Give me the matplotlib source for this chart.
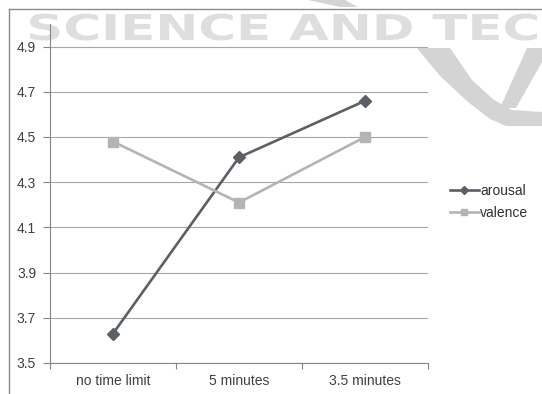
import numpy as np
import matplotlib.pyplot as plt
from matplotlib.textpath import TextPath
from matplotlib.font_manager import FontProperties
from matplotlib.patches import PathPatch, Polygon
from matplotlib.lines import Line2D
from matplotlib.transforms import Affine2D, IdentityTransform

categories = ["no time limit", "5 minutes", "3.5 minutes"]
arousal = [3.63, 4.41, 4.66]
valence = [4.48, 4.21, 4.50]
yticks = [3.5, 3.7, 3.9, 4.1, 4.3, 4.5, 4.7, 4.9]

W, H = 542, 394
plt.rcParams['font.family'] = ['Liberation Sans', 'DejaVu Sans']
fig = plt.figure(figsize=(W / 100, H / 100), dpi=100)

# watermark text, stretched (pixel coords, origin bottom-left)
wm_col = '#dedede'
fp = FontProperties(family='DejaVu Sans', weight='bold')
ref = TextPath((0, 0), "SCIENCE AND TEC", size=1, prop=fp).get_extents()
tp = TextPath((0, 0), "SCIENCE AND TECH", size=1, prop=fp)
sx = (537 - 30) / ref.width
sy = 26 / TextPath((0, 0), "I", size=1, prop=fp).get_extents().height
tr = Affine2D().translate(-ref.x0, 0).scale(sx, sy).translate(30, H - 40)
fig.patches.append(PathPatch(tp, transform=tr + IdentityTransform(),
                             facecolor=wm_col, edgecolor='none', zorder=-2))

def px(pts):
    return [(x, H - y) for x, y in pts]

swoosh = [
    [(308, 0), (345, 0), (358, 7), (340, 7)],
    [(417, 48), (440, 76), (468, 102), (490, 119), (506, 126), (542, 126),
     (542, 112), (512, 110), (494, 100), (472, 80), (450, 48)],
    [(527, 48), (542, 48), (542, 62), (516, 108), (500, 108)],
]
for poly in swoosh:
    fig.patches.append(Polygon(px(poly), closed=True, transform=IdentityTransform(),
                               facecolor='#d4d4d4', edgecolor='none', zorder=-2))

# outer frame
frame_col = '#8c8c8c'
fig.lines.append(Line2D([9, 9], [0, H - 9], transform=IdentityTransform(), color=frame_col, lw=1.0))
fig.lines.append(Line2D([9, W], [H - 9, H - 9], transform=IdentityTransform(), color=frame_col, lw=1.0))

ax = fig.add_axes([50 / W, 1 - 363 / H, (428 - 50) / W, (363 - 24) / H])
ax.set_facecolor('none')

x = np.arange(len(categories))
ax.plot(x, arousal, color='#5b6066', lw=1.9, marker='D', ms=6.5, label='arousal', zorder=3)
ax.plot(x, valence, color='#b4b4b4', lw=1.9, marker='s', ms=7, label='valence', zorder=3)

ax.set_xlim(-0.5, 2.5)
ax.set_ylim(3.5, 5.0)
ax.set_yticks(yticks)
ax.set_yticklabels([f"{v:.1f}" for v in yticks])
ax.yaxis.grid(True, color='#a6a6a6', lw=0.8)
ax.set_axisbelow(True)

ax.set_xticks(x)
ax.set_xticklabels(categories)
ax.set_xticks([-0.5, 0.5, 1.5, 2.5], minor=True)
ax.tick_params(axis='x', which='major', length=0, pad=8, labelsize=10, labelcolor='#404040')
ax.tick_params(axis='x', which='minor', length=4, color='#868686', width=0.8)
ax.tick_params(axis='y', length=5, color='#868686', width=0.8, labelsize=10,
               labelcolor='#404040', pad=5)

for s in ['top', 'right']:
    ax.spines[s].set_visible(False)
for s in ['left', 'bottom']:
    ax.spines[s].set_color('#868686')
    ax.spines[s].set_linewidth(0.8)

fig.legend(loc='center left', bbox_to_anchor=(437 / W, 1 - 202 / H), frameon=False,
           fontsize=10, handlelength=2.1, handletextpad=0.1, labelspacing=0.55,
           markerscale=0.7, labelcolor='#303030')

fig.savefig('out.png', dpi=100)
